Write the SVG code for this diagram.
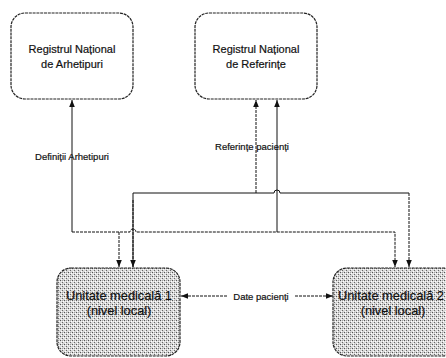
<svg xmlns="http://www.w3.org/2000/svg" width="446" height="358" viewBox="0 0 446 358">
<style>
.box{fill:#fff;stroke:#222;stroke-width:1.2;stroke-dasharray:3 0.8}
.unit{fill:url(#halftone);stroke:#222;stroke-width:1.2;stroke-dasharray:3 0.8}
.t{font-family:"Liberation Sans",Arial,sans-serif;fill:#111;text-anchor:middle;stroke:#111;stroke-width:0.2}
.bt{font-size:11px}
.ut{font-size:12.8px}
.lbl{font-size:9.5px}
.c{fill:none;stroke:#111;stroke-width:1}
.d{stroke-dasharray:3 1}
</style>
<defs>
<pattern id="halftone" width="4" height="4" patternUnits="userSpaceOnUse">
<rect width="4" height="4" fill="#d8d8d8"/>
<rect x="0" y="0" width="1" height="1" fill="#555"/>
<rect x="2" y="2" width="1" height="1" fill="#666"/>
<rect x="2" y="0" width="1" height="1" fill="#a0a0a0"/>
<rect x="1" y="3" width="1" height="1" fill="#fff"/>
<rect x="3" y="1" width="1" height="1" fill="#fff"/>
<rect x="1" y="1" width="1" height="1" fill="#f2f2f2"/>
</pattern>
<marker id="ah" viewBox="0 0 8 8" refX="8" refY="4" markerWidth="7" markerHeight="7" markerUnits="userSpaceOnUse" orient="auto">
<path d="M0,0.8 L8,4 L0,7.2 Z" fill="#111"/>
</marker>
</defs>
<g id="connectors">
<path class="c" d="M72,232 L72,100" marker-end="url(#ah)"/>
<path class="c d" d="M72,232 L130,232 A3,3 0 0 1 136,232 L395,232 L395,267" marker-end="url(#ah)"/>
<path class="c d" d="M119,232 L119,267" marker-end="url(#ah)"/>
<path class="c" d="M133,267 L133,193 L274,193 A3,3 0 0 1 280,193 L409,193"/>
<path class="c d" d="M133,200 L133,267" marker-end="url(#ah)"/>
<path class="c d" d="M409,193 L409,267" marker-end="url(#ah)"/>
<path class="c d" d="M256,193 L256,100" marker-end="url(#ah)"/>
<path class="c" d="M277,232 L277,100" marker-end="url(#ah)"/>
<path class="c d" d="M227,296 L181,296" marker-end="url(#ah)"/>
<path class="c d" d="M295,296 L333,296" marker-end="url(#ah)"/>
<text class="t lbl" x="72" y="160">Definiții Arhetipuri</text>
<text class="t lbl" x="252" y="150">Referințe pacienți</text>
<text class="t lbl" x="261" y="299.5">Date pacienți</text>
</g>
<g id="reg-arhetipuri">
<rect class="box" x="11" y="13" width="122" height="86" rx="14"/>
<text class="t bt" x="72" y="53">Registrul Național</text>
<text class="t bt" x="72" y="68">de Arhetipuri</text>
</g>
<g id="reg-referinte">
<rect class="box" x="195" y="13" width="122" height="86" rx="14"/>
<text class="t bt" x="256" y="53">Registrul Național</text>
<text class="t bt" x="256" y="68">de Referințe</text>
</g>
<g id="unitate1">
<rect class="unit" x="57" y="268" width="123" height="88" rx="14"/>
<text class="t ut" x="119" y="300">Unitate medicală 1</text>
<text class="t ut" x="119" y="315">(nivel local)</text>
</g>
<g id="unitate2">
<rect class="unit" x="333" y="268" width="124" height="88" rx="14"/>
<text class="t ut" x="391" y="300">Unitate medicală 2</text>
<text class="t ut" x="393" y="315">(nivel local)</text>
</g>
</svg>
